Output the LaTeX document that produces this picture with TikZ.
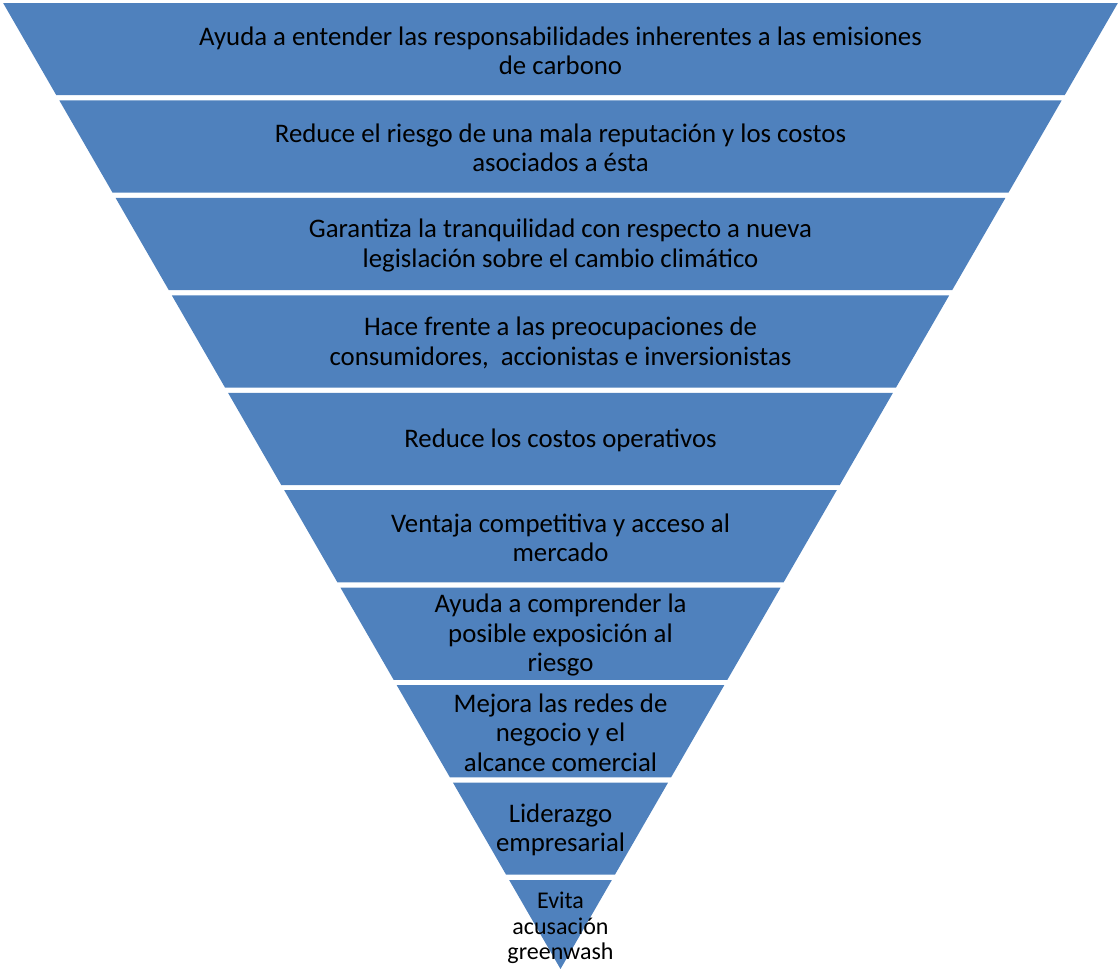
\documentclass[tikz,border=0pt]{standalone}
\usepackage{fontspec}
\setmainfont{Carlito}
\definecolor{bandblue}{HTML}{4F81BD}
\newcommand\pyrband[6]{% #1 name, #2 top, #3 bottom, #4 font, #5 text shift, #6 text
  \pgfmathsetmacro\hwt{0.577*(969-#2)}
  \pgfmathsetmacro\hwb{0.577*(969-#3)}
  \fill[bandfill] ({560.5-\hwt},#2) -- ({560.5+\hwt},#2) -- ({560.5+\hwb},#3) -- ({560.5-\hwb},#3) -- cycle;
  \node[lbl,font=#4] (#1) at (560.5,{(#2+#3)/2+#5}) {#6};
}
\tikzset{
  bandfill/.style={fill=bandblue},
  lbl/.style={align=center,inner sep=0pt,text=black},
}
\begin{document}
\begin{tikzpicture}[x=1pt,y=-1pt]
\useasboundingbox (0,0) rectangle (1119,969);
\def\mainf{\fontsize{26.8}{29.4}\selectfont}
\def\smallf{\fontsize{24}{25.6}\selectfont}
\pyrband{b1}{3}{95.2}{\mainf}{1.5}{Ayuda a entender las responsabilidades inherentes a las emisiones\\de carbono}
\pyrband{b2}{100.4}{192.6}{\mainf}{1.5}{Reduce el riesgo de una mala reputación y los costos\\asociados a ésta}
\pyrband{b3}{197.9}{290.1}{\mainf}{1.5}{Garantiza la tranquilidad con respecto a nueva\\legislación sobre el cambio climático}
\pyrband{b4}{295.3}{387.5}{\mainf}{1.5}{Hace frente a las preocupaciones de\\consumidores,\ \ accionistas e inversionistas}
\pyrband{b5}{392.8}{485.0}{\mainf}{1.5}{Reduce los costos operativos}
\pyrband{b6}{490.2}{582.4}{\mainf}{1.5}{Ventaja competitiva y acceso al\\mercado}
\pyrband{b7}{587.6}{679.8}{\mainf}{1.5}{Ayuda a comprender la\\posible exposición al\\riesgo}
\pyrband{b8}{685.1}{777.3}{\mainf}{1.5}{Mejora las redes de\\negocio y el\\alcance comercial}
\pyrband{b9}{782.5}{874.7}{\mainf}{1.5}{Liderazgo\\empresarial}
\pyrband{b10}{880}{969}{\smallf}{3.5}{Evita\\acusación\\greenwash}
\end{tikzpicture}
\end{document}
